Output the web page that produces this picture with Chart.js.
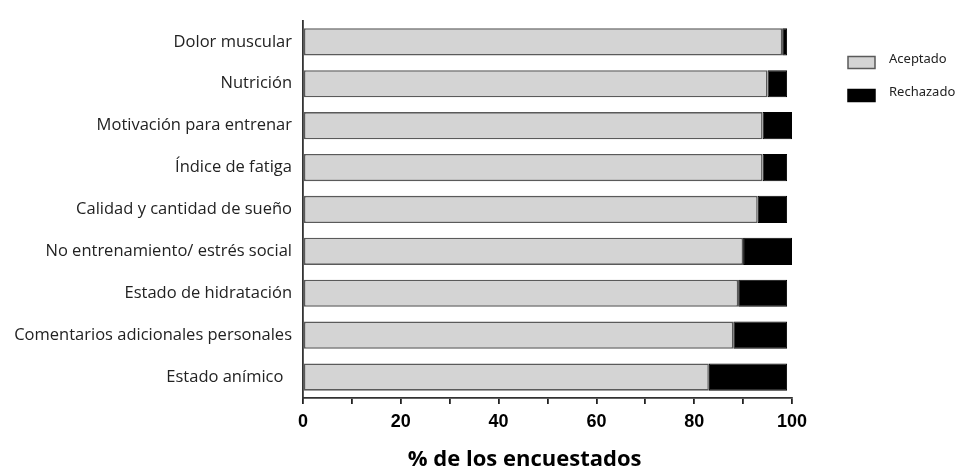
<!DOCTYPE html>
<html>
<head>
<meta charset="utf-8">
<script src="https://cdn.jsdelivr.net/npm/chart.js@4"></script>
<style>
  html, body { margin: 0; padding: 0; background: #fff; }
  #wrap { width: 957px; height: 469px; }
</style>
</head>
<body>
<div id="wrap"><canvas id="chart"></canvas></div>
<script>
// Datos
const categorias = [
    'Dolor muscular',
    'Nutrición',
    'Motivación para entrenar',
    'Índice de fatiga',
    'Calidad y cantidad de sueño',
    'No entrenamiento/ estrés social',
    'Estado de hidratación',
    'Comentarios adicionales personales',
    'Estado anímico  '
];
const aceptado = [98, 95, 94, 94, 93, 90, 89, 88, 83];
const rechazado = [1, 4, 6, 5, 6, 10, 10, 11, 16];
const ticksEje = [0, 20, 40, 60, 80, 100];

// Leyenda dibujada a mano a la derecha
const legendPlugin = {
    id: 'sideLegend',
    afterDraw(chart) {
        const ctx = chart.ctx;
        const items = [
            { y: 62.5, ds: chart.data.datasets[0] },
            { y: 95.5, ds: chart.data.datasets[1] }
        ];
        ctx.save();
        ctx.font = '13px "Noto Sans"';
        ctx.textBaseline = 'middle';
        items.forEach(it => {
            ctx.fillStyle = it.ds.backgroundColor;
            ctx.fillRect(848, it.y - 6, 27, 12);
            ctx.strokeStyle = it.ds.borderColor;
            ctx.lineWidth = 1.5;
            ctx.strokeRect(848, it.y - 6, 27, 12);
            ctx.fillStyle = '#222';
            ctx.fillText(it.ds.label, 889, it.y - 3);
        });
        ctx.restore();
    }
};

const ctx = document.getElementById('chart').getContext('2d');
new Chart(ctx, {
    type: 'bar',
    data: {
        labels: categorias,
        datasets: [{
            label: 'Aceptado',
            data: aceptado,
            backgroundColor: '#d4d4d4',
            borderColor: '#5a5a5a',
            borderWidth: 1.6,
            borderSkipped: false
        }, {
            label: 'Rechazado',
            data: rechazado,
            backgroundColor: '#000',
            borderColor: '#000',
            borderWidth: 1,
            borderSkipped: false
        }]
    },
    options: {
        indexAxis: 'y',
        responsive: true,
        maintainAspectRatio: false,
        animation: false,
        categoryPercentage: 1,
        barPercentage: 0.65,
        layout: { padding: { left: 10, right: 165, top: 16, bottom: 0 } },
        plugins: {
            legend: { display: false },
            tooltip: { enabled: false }
        },
        scales: {
            x: {
                stacked: true,
                min: 0,
                max: 100,
                ticks: {
                    stepSize: 10,
                    autoSkip: false,
                    maxRotation: 0,
                    padding: 7,
                    color: '#000',
                    font: { family: '"Liberation Sans"', size: 18, weight: 'bold' },
                    callback: v => ticksEje.includes(v) ? String(v) : ''
                },
                grid: {
                    drawOnChartArea: false,
                    drawTicks: true,
                    tickLength: 6,
                    color: '#222',
                    lineWidth: 1.8
                },
                border: { display: true, color: '#333', width: 1.8 },
                title: {
                    display: true,
                    text: '% de los encuestados' + '\u00a0'.repeat(8),
                    color: '#000',
                    font: { family: '"Open Sans"', size: 22, weight: 'bold', lineHeight: 0.8 },
                    padding: { top: 0, bottom: 0 }
                },
                afterFit(scale) { scale.height = 71; }
            },
            y: {
                stacked: true,
                ticks: {
                    padding: 11,
                    color: '#222',
                    font: { family: '"Open Sans"', size: 16.5 }
                },
                grid: { display: false, drawTicks: false },
                border: { display: true, color: '#333', width: 1.8 },
                afterFit(scale) { scale.width = 293; }
            }
        }
    },
    plugins: [legendPlugin]
});
</script>
</body>
</html>
